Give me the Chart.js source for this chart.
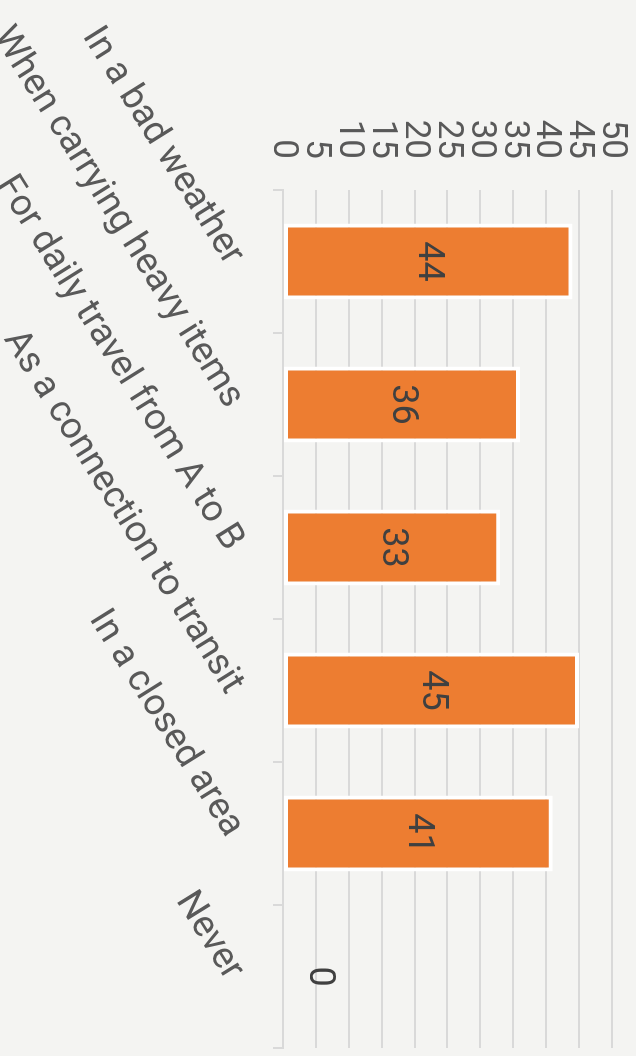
<!DOCTYPE html>
<html>
<head>
<meta charset="utf-8">
<script src="https://cdn.jsdelivr.net/npm/chart.js@4/dist/chart.umd.min.js"></script>
<style>
  html, body { margin: 0; padding: 0; background: #f4f4f2; overflow: hidden; }
  #wrap {
    position: absolute; left: 0; top: 0;
    width: 1056px; height: 636px;
    transform-origin: 0 0;
    transform: translate(636px, 0) rotate(90deg);
  }
</style>
</head>
<body>
<div id="wrap"><canvas id="chart" width="1056" height="636"></canvas></div>
<script>
// dane
const categories = ["In a bad weather", "When carrying heavy items", "For daily travel from A to B",
                    "As a connection to transit", "In a closed area", "Never"];
const values = [44, 36, 33, 45, 41, 0];
const valueTicks = [0, 5, 10, 15, 20, 25, 30, 35, 40, 45, 50];

// etykiety w środku słupków
const barLabels = {
    id: "barLabels",
    afterDatasetsDraw(chart) {
        const ctx = chart.ctx
        const meta = chart.getDatasetMeta(0)
        ctx.save()
        ctx.font = "36px Roboto"
        ctx.fillStyle = "#404040"
        ctx.textAlign = "center"
        ctx.textBaseline = "middle"
        meta.data.forEach((bar, i) => {
            const p = bar.getProps(["x", "y", "base"], true)
            let y = (p.y + p.base) / 2
            if (Math.abs(p.base - p.y) < 40) y = p.y - 36
            ctx.fillText(String(values[i]), p.x, y)
        })
        ctx.restore()
    }
}

new Chart(document.getElementById("chart"), {
    type: "bar",
    data: {
        labels: categories,
        datasets: [{
            data: values,
            backgroundColor: "#ed7d31",
            borderColor: "#ffffff",
            borderWidth: 4,
            borderSkipped: false,
            categoryPercentage: 0.8,
            barPercentage: 0.664
        }]
    },
    options: {
        responsive: false,
        animation: false,
        layout: { padding: { top: 24, right: 8, left: 0, bottom: 0 } },
        plugins: { legend: { display: false }, tooltip: { enabled: false } },
        scales: {
            x: {
                grid: { drawOnChartArea: false, drawTicks: true, tickLength: 10, color: "#d9d9d9", lineWidth: 2 },
                border: { display: true, color: "#d9d9d9", width: 2 },
                ticks: {
                    color: "#595959",
                    font: { family: "Roboto", size: 37 },
                    minRotation: 32,
                    maxRotation: 32,
                    padding: 20,
                    autoSkip: false
                },
                afterFit: (scale) => {
                    scale.height = 283
                    scale.paddingLeft = 0
                    scale.paddingRight = 0
                }
            },
            y: {
                min: 0,
                max: 50,
                afterBuildTicks: (scale) => { scale.ticks = valueTicks.map(v => ({ value: v })) },
                grid: { drawTicks: false, color: "#d9d9d9", lineWidth: 2 },
                border: { display: false },
                ticks: {
                    color: "#595959",
                    font: { family: "Roboto", size: 35 },
                    padding: 31,
                    autoSkip: false
                },
                afterFit: (scale) => {
                    scale.width = 190
                    scale.paddingTop = 0
                    scale.paddingBottom = 0
                }
            }
        }
    },
    plugins: [barLabels]
});
</script>
</body>
</html>
